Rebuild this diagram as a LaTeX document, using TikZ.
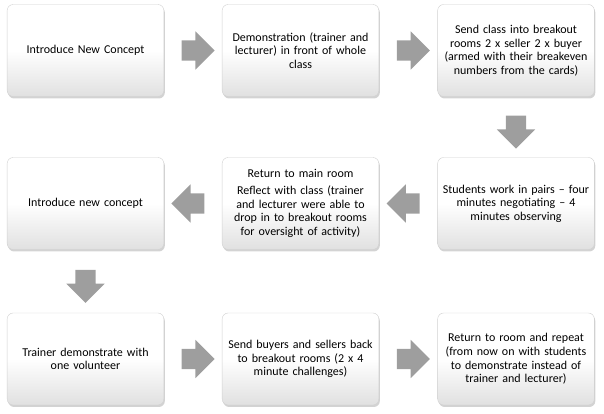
\documentclass[tikz,border=0pt]{standalone}
\usepackage{fontspec}
\setmainfont{Carlito}
\usepackage{tikz}
\usetikzlibrary{shapes.arrows,shadows,calc}

\tikzset{
  stepbox/.style={rectangle, rounded corners=6pt, minimum width=155pt, minimum height=92pt,
    draw=black!18, top color=white, bottom color=black!12, middle color=white,
    drop shadow={shadow xshift=1pt, shadow yshift=-2pt, opacity=0.35},
    align=center, text width=150pt, font=\fontsize{12}{13.6}\selectfont},
  bigarrow/.style={single arrow, single arrow head extend=9pt, minimum width=38pt,
    minimum height=33pt, inner xsep=0pt, inner ysep=10pt, fill=black!38, draw=none}
}

\begin{document}
\begin{tikzpicture}[x=1pt,y=1pt]
                \useasboundingbox (0,0) rectangle (604,414);
                 % first row
                 \node[stepbox] (intro) at (85.5,363.5) {Introduce New Concept};
                 \node[stepbox] (demo) at (300.5,363.5) {Demonstration (trainer and\\ lecturer) in front of whole\\ class};
                 \node[stepbox] (send) at (516,363.5) {Send class into breakout\\ rooms 2 x seller 2 x buyer\\ (armed with their breakeven\\ numbers from the cards)};
                 % second row
                 \node[stepbox] (pairs) at (516,210.5) {Students work in pairs -- four\\ minutes negotiating -- 4\\ minutes observing};
                 \node[stepbox] (reflect) at (300.5,210.5) {Return to main room\\[3pt] Reflect with class (trainer\\ and lecturer were able to\\ drop in to breakout rooms\\ for oversight of activity)};
                 \node[stepbox] (newcon) at (85.5,210.5) {Introduce new concept};
                 % third row
                 \node[stepbox] (volunteer) at (85.5,55) {Trainer demonstrate with\\ one volunteer};
                 \node[stepbox] (back) at (300.5,55) {Send buyers and sellers back\\ to breakout rooms (2 x 4\\ minute challenges)};
                 \node[stepbox] (repeat) at (516,55) {Return to room and repeat\\ (from now on with students\\ to demonstrate instead of\\ trainer and lecturer)};
                 % arrows
                 \node[bigarrow] (a1) at ($(intro.east)!0.5!(demo.west)$) {};
                 \node[bigarrow] (a2) at ($(demo.east)!0.5!(send.west)$) {};
                 \node[bigarrow, rotate=-90] (a3) at ($(send.south)!0.5!(pairs.north)$) {};
                 \node[bigarrow, rotate=180] (a4) at ($(pairs.west)!0.5!(reflect.east)$) {};
                 \node[bigarrow, rotate=180] (a5) at ($(reflect.west)!0.5!(newcon.east)$) {};
                 \node[bigarrow, rotate=-90] (a6) at ($(newcon.south)!0.5!(volunteer.north)$) {};
                 \node[bigarrow] (a7) at ($(volunteer.east)!0.5!(back.west)$) {};
                 \node[bigarrow] (a8) at ($(back.east)!0.5!(repeat.west)$) {};
            \end{tikzpicture}
\end{document}
